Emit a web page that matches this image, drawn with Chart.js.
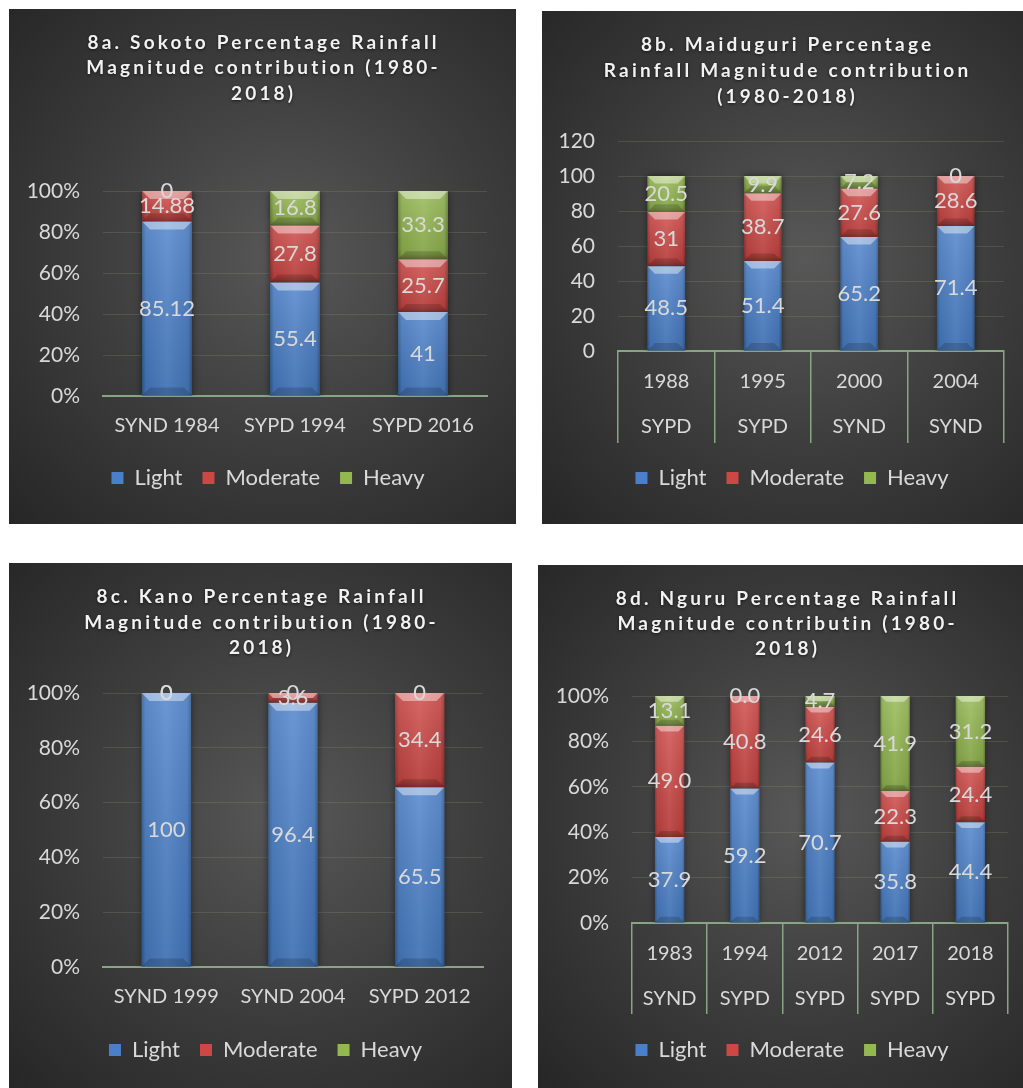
<!DOCTYPE html>
<html>
<head>
<meta charset="utf-8">
<title>Percentage Rainfall Magnitude contribution</title>
<script src="https://cdn.jsdelivr.net/npm/chart.js@4.4.1/dist/chart.umd.min.js"></script>
<style>
  body { margin: 0; background: #fff; width: 1023px; height: 1088px; position: relative; overflow: hidden; }
  .panel {
    position: absolute;
    background: radial-gradient(ellipse farthest-corner at 55% 48%, #585858 0%, #3d3d3d 50%, #262626 100%);
  }
  .panel canvas { display: block; }
</style>
</head>
<body>

<div class="panel" style="left:9px;top:9px;width:507px;height:515px">
  <canvas id="sokotoChart" width="507" height="515"></canvas>
</div>
<div class="panel" style="left:542px;top:11px;width:481px;height:513px">
  <canvas id="maiduguriChart" width="481" height="513"></canvas>
</div>
<div class="panel" style="left:9px;top:563px;width:503px;height:525px">
  <canvas id="kanoChart" width="503" height="525"></canvas>
</div>
<div class="panel" style="left:538px;top:565px;width:485px;height:523px">
  <canvas id="nguruChart" width="485" height="523"></canvas>
</div>

<script>
// ── 8a Sokoto ──
const sokotoCats     = ['SYND 1984', 'SYPD 1994', 'SYPD 2016'];
const sokotoLight    = [85.12, 55.4, 41];
const sokotoModerate = [14.88, 27.8, 25.7];
const sokotoHeavy    = [0, 16.8, 33.3];

// ── 8b Maiduguri ──
const maidYears    = ['1988', '1995', '2000', '2004'];
const maidTypes    = ['SYPD', 'SYPD', 'SYND', 'SYND'];
const maidLight    = [48.5, 51.4, 65.2, 71.4];
const maidModerate = [31, 38.7, 27.6, 28.6];
const maidHeavy    = [20.5, 9.9, 7.2, 0];

// ── 8c Kano ──
const kanoCats     = ['SYND 1999', 'SYND 2004', 'SYPD 2012'];
const kanoLight    = [100, 96.4, 65.5];
const kanoModerate = [0, 3.6, 34.4];
const kanoHeavy    = [0, 0, 0];

// ── 8d Nguru ──
const nguruYears    = ['1983', '1994', '2012', '2017', '2018'];
const nguruTypes    = ['SYND', 'SYPD', 'SYPD', 'SYPD', 'SYPD'];
const nguruLight    = [37.9, 59.2, 70.7, 35.8, 44.4];
const nguruModerate = [49.0, 40.8, 24.6, 22.3, 24.4];
const nguruHeavy    = [13.1, 0.0, 4.7, 41.9, 31.2];

const seriesNames  = ['Light', 'Moderate', 'Heavy'];
const seriesColors = ['#4a80ca', '#cd4744', '#94b850'];

const FONT = 'Lato, "Open Sans", sans-serif';
const TEXT = '#d9d9d9';
const GRID = 'rgba(140,170,130,0.22)';
const AXIS = '#86a684';

/* ════════════════════════════
   PLUGINS
════════════════════════════ */

// spaced bold title lines drawn on the canvas
const spacedTitle = {
  id: 'spacedTitle',
  afterDraw(chart, args, opts) {
    if (!opts.lines) return;
    const ctx = chart.ctx;
    ctx.save();
    ctx.font = 'bold 19px ' + FONT;
    ctx.letterSpacing = opts.spacing + 'px';
    ctx.textAlign = 'center';
    ctx.textBaseline = 'middle';
    ctx.fillStyle = '#f2f2f2';
    ctx.shadowColor = 'rgba(0,0,0,0.6)';
    ctx.shadowBlur = 3;
    ctx.shadowOffsetY = 1;
    opts.lines.forEach((line, i) => {
      ctx.fillText(line, opts.x + opts.spacing / 2, opts.ys[i]);
    });
    ctx.restore();
  }
};

// nudge the legend sideways after layout
const legendShift = {
  id: 'legendShift',
  afterLayout(chart, args, opts) {
    const lg = chart.legend;
    if (!lg || !opts.dx) return;
    lg.left += opts.dx;
    lg.right += opts.dx;
  }
};

// soft shadow under the bars plus a bevelled face
const barBevel = {
  id: 'barBevel',
  beforeDatasetsDraw(chart) {
    const ctx = chart.ctx;
    ctx.save();
    ctx.shadowColor = 'rgba(0,0,0,0.55)';
    ctx.shadowBlur = 7;
  },
  afterDatasetsDraw(chart) {
    const ctx = chart.ctx;
    ctx.restore();
    chart.data.datasets.forEach((ds, di) => {
      chart.getDatasetMeta(di).data.forEach(bar => {
        const left = bar.x - bar.width / 2;
        const right = bar.x + bar.width / 2;
        const top = Math.min(bar.y, bar.base);
        const bottom = Math.max(bar.y, bar.base);
        const h = bottom - top;
        if (h < 1) return;
        const w = right - left;
        const b = Math.min(8, h / 2, w * 0.2);

        const side = ctx.createLinearGradient(left, 0, right, 0);
        side.addColorStop(0, 'rgba(0,0,0,0.30)');
        side.addColorStop(0.08, 'rgba(0,0,0,0.06)');
        side.addColorStop(0.5, 'rgba(255,255,255,0.07)');
        side.addColorStop(0.92, 'rgba(0,0,0,0.06)');
        side.addColorStop(1, 'rgba(0,0,0,0.30)');
        ctx.fillStyle = side;
        ctx.fillRect(left, top, w, h);

        const vert = ctx.createLinearGradient(0, top, 0, bottom);
        vert.addColorStop(0, 'rgba(255,255,255,0.12)');
        vert.addColorStop(1, 'rgba(0,0,0,0.10)');
        ctx.fillStyle = vert;
        ctx.fillRect(left, top, w, h);

        // top facet
        ctx.beginPath();
        ctx.moveTo(left, top);
        ctx.lineTo(right, top);
        ctx.lineTo(right - b, top + b);
        ctx.lineTo(left + b, top + b);
        ctx.closePath();
        ctx.fillStyle = 'rgba(255,255,255,0.42)';
        ctx.fill();

        // bottom facet
        ctx.beginPath();
        ctx.moveTo(left, bottom);
        ctx.lineTo(right, bottom);
        ctx.lineTo(right - b, bottom - b);
        ctx.lineTo(left + b, bottom - b);
        ctx.closePath();
        ctx.fillStyle = 'rgba(0,0,0,0.16)';
        ctx.fill();
      });
    });
  }
};

// value written in the middle of each segment
const segmentLabels = {
  id: 'segmentLabels',
  afterDatasetsDraw(chart, args, opts) {
    const ctx = chart.ctx;
    ctx.save();
    ctx.font = '22px ' + FONT;
    ctx.fillStyle = TEXT;
    ctx.textAlign = 'center';
    ctx.textBaseline = 'middle';
    chart.data.datasets.forEach((ds, di) => {
      chart.getDatasetMeta(di).data.forEach((bar, i) => {
        const v = ds.rawValues[i];
        const txt = opts.decimals == null ? String(v) : v.toFixed(opts.decimals);
        ctx.fillText(txt, bar.x, (bar.y + bar.base) / 2);
      });
    });
    ctx.restore();
  }
};

/* ════════════════════════════
   CHART BUILDER
════════════════════════════ */
function buildChart(id, cfg) {
  const ctx = document.getElementById(id);
  const raw = [cfg.light, cfg.moderate, cfg.heavy];

  // 100% stacked panels show each value as a share of its column total
  const totals = cfg.labels.map((_, i) => raw.reduce((s, arr) => s + arr[i], 0));
  const datasets = raw.map((arr, k) => ({
    label: seriesNames[k],
    data: cfg.percent ? arr.map((v, i) => v / totals[i] * 100) : arr.slice(),
    rawValues: arr,
    backgroundColor: seriesColors[k],
    borderWidth: 0,
    categoryPercentage: 1,
    barPercentage: 0.39
  }));

  const twoLevel = Array.isArray(cfg.labels[0]);

  return new Chart(ctx, {
    type: 'bar',
    data: { labels: cfg.labels, datasets },
    plugins: [spacedTitle, legendShift, barBevel, segmentLabels],
    options: {
      responsive: false,
      animation: false,
      devicePixelRatio: 1,
      layout: { padding: cfg.padding },
      plugins: {
        title: { display: false },
        tooltip: { enabled: false },
        legend: {
          position: 'bottom',
          labels: {
            color: TEXT,
            font: { family: FONT, size: 22 },
            boxWidth: 12,
            boxHeight: 12,
            padding: 20
          }
        },
        legendShift: { dx: cfg.legendDx },
        spacedTitle: cfg.title,
        segmentLabels: { decimals: cfg.decimals }
      },
      scales: {
        x: {
          stacked: true,
          afterFit: s => { s.height = cfg.xHeight; },
          grid: twoLevel
            ? { display: true, drawOnChartArea: false, drawTicks: true, tickLength: cfg.boxDepth, color: AXIS, lineWidth: 1.5 }
            : { display: true, drawOnChartArea: false, drawTicks: false },
          border: { display: true, color: AXIS, width: 2 },
          ticks: {
            color: TEXT,
            padding: cfg.xPad,
            maxRotation: 0,
            autoSkip: false,
            font: { family: FONT, size: 20, lineHeight: twoLevel ? 2.25 : 1.2 }
          }
        },
        y: {
          stacked: true,
          min: 0,
          max: cfg.yMax,
          afterFit: s => { s.width = cfg.yWidth; },
          grid: { color: GRID, lineWidth: 1, drawTicks: false },
          border: { display: false },
          ticks: {
            stepSize: 20,
            color: TEXT,
            padding: 23,
            font: { family: FONT, size: 21 },
            callback: v => cfg.percent ? v + '%' : v
          }
        }
      }
    }
  });
}

/* ════════════════════════════
   INIT
════════════════════════════ */
buildChart('sokotoChart', {
  labels: sokotoCats,
  light: sokotoLight, moderate: sokotoModerate, heavy: sokotoHeavy,
  percent: true, yMax: 100,
  padding: { top: 182, left: 0, right: 29, bottom: 25 },
  yWidth: 94, xHeight: 51, xPad: 18, legendDx: 20,
  title: { lines: ['8a. Sokoto Percentage Rainfall', 'Magnitude contribution (1980-', '2018)'], x: 253, ys: [34, 59, 85], spacing: 3.2 }
});

buildChart('maiduguriChart', {
  labels: maidYears.map((y, i) => [y, maidTypes[i]]),
  light: maidLight, moderate: maidModerate, heavy: maidHeavy,
  percent: false, yMax: 120,
  padding: { top: 130, left: 0, right: 19, bottom: 25 },
  yWidth: 76, xHeight: 96, xPad: -83.5, boxDepth: 92, legendDx: 19,
  title: { lines: ['8b. Maiduguri Percentage', 'Rainfall Magnitude contribution', '(1980-2018)'], x: 244, ys: [34, 60, 86], spacing: 3.2 }
});

buildChart('kanoChart', {
  labels: kanoCats,
  light: kanoLight, moderate: kanoModerate, heavy: kanoHeavy,
  percent: true, yMax: 100,
  padding: { top: 130, left: 0, right: 29, bottom: 17 },
  yWidth: 94, xHeight: 52, xPad: 18, legendDx: 19.5,
  title: { lines: ['8c. Kano Percentage Rainfall', 'Magnitude contribution (1980-', '2018)'], x: 251, ys: [34, 60, 85], spacing: 3.2 }
});

buildChart('nguruChart', {
  labels: nguruYears.map((y, i) => [y, nguruTypes[i]]),
  light: nguruLight, moderate: nguruModerate, heavy: nguruHeavy,
  percent: true, yMax: 100, decimals: 1,
  padding: { top: 131, left: 0, right: 15, bottom: 17 },
  yWidth: 94, xHeight: 96, xPad: -82.5, boxDepth: 91, legendDx: 19,
  title: { lines: ['8d. Nguru Percentage Rainfall', 'Magnitude contributin (1980-', '2018)'], x: 248, ys: [34, 59, 84], spacing: 3.2 }
});
</script>
</body>
</html>
